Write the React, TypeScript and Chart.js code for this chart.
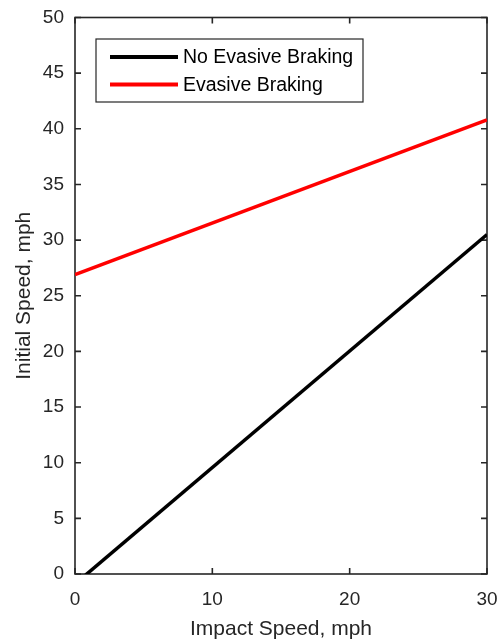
import { useEffect, useRef } from "react";
import { Chart, registerables } from "chart.js";

Chart.register(...registerables);

// Impact speed (mph) at the ends of each line
const impactSpeed = [0, 30];
// Required initial speed (mph) for each case
const initialNoEvasive = [-0.9, 30.5];
const initialEvasive = [26.9, 40.8];

const seriesLabels = ["No Evasive Braking", "Evasive Braking"];
const seriesColors = ["#000000", "#ff0000"];

const xTickValues = [0, 10, 20, 30];
const yTickValues = [0, 5, 10, 15, 20, 25, 30, 35, 40, 45, 50];

const AXIS_COLOR = "#262626";
const FONT = "'Liberation Sans', Arial, Helvetica, sans-serif";

// Box around the plot area with inward tick marks on all four sides
const boxPlugin = {
  id: "axesBox",
  beforeDatasetsDraw(chart: any) {
    const { ctx, chartArea } = chart;
    const { left, right, top, bottom } = chartArea;
    const x = chart.scales.x;
    const y = chart.scales.y;
    const len = 6;
    ctx.save();
    ctx.strokeStyle = AXIS_COLOR;
    ctx.lineWidth = 1.6;
    ctx.beginPath();
    xTickValues.forEach((v) => {
      const px = x.getPixelForValue(v);
      ctx.moveTo(px, bottom);
      ctx.lineTo(px, bottom - len);
      ctx.moveTo(px, top);
      ctx.lineTo(px, top + len);
    });
    yTickValues.forEach((v) => {
      const py = y.getPixelForValue(v);
      ctx.moveTo(left, py);
      ctx.lineTo(left + len, py);
      ctx.moveTo(right, py);
      ctx.lineTo(right - len, py);
    });
    ctx.stroke();
    ctx.strokeRect(left, top, right - left, bottom - top);
    ctx.restore();
  },
};

// Boxed legend inside the upper-left of the plot area
const legendPlugin = {
  id: "insideLegend",
  afterDatasetsDraw(chart: any) {
    const { ctx, chartArea } = chart;
    const bx = chartArea.left + 21;
    const by = chartArea.top + 21.5;
    const bw = 267;
    const bh = 63;
    ctx.save();
    ctx.fillStyle = "#ffffff";
    ctx.fillRect(bx, by, bw, bh);
    ctx.strokeStyle = AXIS_COLOR;
    ctx.lineWidth = 1.2;
    ctx.strokeRect(bx, by, bw, bh);
    ctx.font = `19.5px ${FONT}`;
    ctx.textBaseline = "middle";
    ctx.textAlign = "left";
    chart.data.datasets.forEach((ds: any, i: number) => {
      const cy = by + 18 + i * 27.5;
      ctx.strokeStyle = ds.borderColor;
      ctx.lineWidth = 4;
      ctx.beginPath();
      ctx.moveTo(bx + 14, cy);
      ctx.lineTo(bx + 82, cy);
      ctx.stroke();
      ctx.fillStyle = "#000000";
      ctx.fillText(ds.label, bx + 87, cy + 1);
    });
    ctx.restore();
  },
};

export default function App() {
  const canvasRef = useRef<HTMLCanvasElement | null>(null);

  useEffect(() => {
    const canvas = canvasRef.current;
    if (!canvas) return;
    const toPoints = (ys: number[]) => impactSpeed.map((x, i) => ({ x, y: ys[i] }));
    const chart = new Chart(canvas, {
      type: "line",
      data: {
        datasets: [
          {
            label: seriesLabels[0],
            data: toPoints(initialNoEvasive),
            borderColor: seriesColors[0],
            borderWidth: 3.5,
            pointRadius: 0,
            clip: 0,
          },
          {
            label: seriesLabels[1],
            data: toPoints(initialEvasive),
            borderColor: seriesColors[1],
            borderWidth: 3.5,
            pointRadius: 0,
            clip: 0,
          },
        ],
      },
      options: {
        animation: false,
        responsive: false,
        maintainAspectRatio: false,
        layout: { padding: { top: 17.5, right: 15, left: 0, bottom: 0 } },
        plugins: {
          legend: { display: false },
          tooltip: { enabled: false },
        },
        scales: {
          x: {
            type: "linear",
            min: 0,
            max: 30,
            afterBuildTicks: (s: any) => {
              s.ticks = xTickValues.map((value) => ({ value }));
            },
            afterFit: (s: any) => {
              s.height = 67;
              s.paddingLeft = 0;
              s.paddingRight = 0;
            },
            grid: { display: false, drawTicks: false },
            border: { display: false },
            ticks: {
              color: AXIS_COLOR,
              font: { family: FONT, size: 19 },
              padding: 14,
              maxRotation: 0,
            },
            title: {
              display: true,
              text: "Impact Speed, mph",
              color: AXIS_COLOR,
              font: { family: FONT, size: 21 },
              padding: { top: 0, bottom: -1 },
            },
          },
          y: {
            type: "linear",
            min: 0,
            max: 50,
            afterBuildTicks: (s: any) => {
              s.ticks = yTickValues.map((value) => ({ value }));
            },
            afterFit: (s: any) => {
              s.width = 75;
              s.paddingTop = 0;
              s.paddingBottom = 0;
            },
            grid: { display: false, drawTicks: false },
            border: { display: false },
            ticks: {
              color: AXIS_COLOR,
              font: { family: FONT, size: 19 },
              padding: 11,
            },
            title: {
              display: true,
              text: "Initial Speed, mph",
              color: AXIS_COLOR,
              font: { family: FONT, size: 21 },
              padding: { top: 12, bottom: 0 },
            },
          },
        },
      },
      plugins: [boxPlugin, legendPlugin],
    });
    return () => chart.destroy();
  }, []);

  return (
    <div style={{ position: "fixed", left: 0, top: 0, width: 502, height: 641, background: "#ffffff" }}>
      <canvas ref={canvasRef} width={502} height={641} style={{ display: "block" }} />
    </div>
  );
}
